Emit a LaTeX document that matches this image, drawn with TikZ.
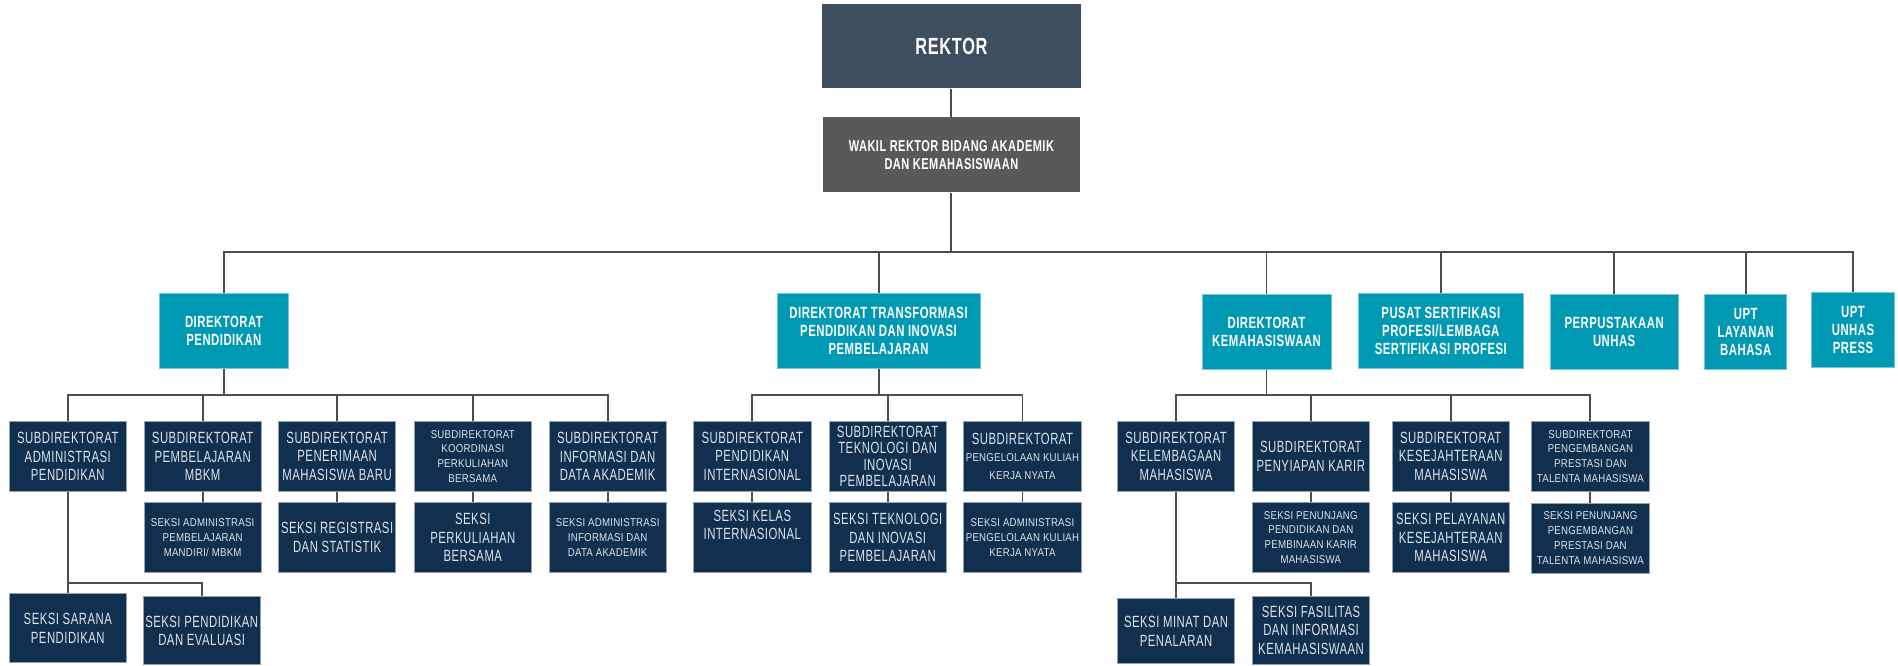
\documentclass[tikz,border=0pt]{standalone}
\usepackage{fontspec}
\setmainfont{Liberation Sans}[FakeStretch=0.70,LetterSpace=3.0]
\newfontfamily\smallfam{Liberation Sans}[FakeStretch=0.85,LetterSpace=2.0]
\usepackage{tikz}
\usetikzlibrary{positioning}
\usepackage{xcolor}
\definecolor{rektorcol}{HTML}{3F4E5F}
\definecolor{wakilcol}{HTML}{58595B}
\definecolor{tealcol}{HTML}{0099B4}
\definecolor{navycol}{HTML}{112F4F}
\definecolor{navytext}{HTML}{DDE3EA}
\definecolor{linecol}{HTML}{4D4D4D}
\newcommand\normtxt{\fontsize{13.4}{15.2}\selectfont}
\newcommand\smtxt{\smallfam\fontsize{9.4}{12.2}\selectfont}
\tikzset{%
	topbox/.style={
		rectangle,
		fill=rektorcol,
		text=white,
		font=\bfseries\fontsize{19.3}{22}\selectfont,
		minimum width=214pt,
		minimum height=70pt,
		inner sep=0pt,
		align=center
	},
	wakilbox/.style={
		topbox,
		fill=wakilcol,
		font=\bfseries\fontsize{13}{15}\selectfont,
		minimum width=212pt,
		minimum height=62pt
	},
	dirbox/.style={
		rectangle,
		fill=tealcol,
		draw=tealcol!55!white,
		line width=0.6pt,
		text=white,
		font=\bfseries\fontsize{13.4}{14.8}\selectfont,
		minimum height=62pt,
		inner sep=0pt,
		align=center
	},
	subbox/.style={
		rectangle,
		fill=navycol,
		draw=navycol!45!white,
		line width=0.6pt,
		text=navytext,
		font=\normtxt,
		minimum width=97pt,
		minimum height=57.5pt,
		inner sep=0pt,
		align=center
	},
	seksibox/.style={
		subbox,
		minimum height=58pt
	},
	smalltext/.style={font=\smtxt},
	conn/.style={draw=linecol, line width=1.6pt},
}
\begin{document}
\begin{tikzpicture}[x=1pt,y=-1pt]
			\useasboundingbox (0,0) rectangle (1568,549.4);
			
			% Draw the top of the chart
			\node[topbox] (rektor) at (786,38) {REKTOR};
			\node[wakilbox] (wakil) at (786,128) {WAKIL REKTOR BIDANG AKADEMIK\\DAN KEMAHASISWAAN};
			\coordinate (bus) at (786,208);
			
			% Draw the units under the wakil rektor
			\node[dirbox, minimum width=107pt] (dirpend) at (185,273.5) {DIREKTORAT\\PENDIDIKAN};
			\node[dirbox, minimum width=167.6pt] (dirtrans) at (725.8,273.5) {DIREKTORAT TRANSFORMASI\\PENDIDIKAN DAN INOVASI\\PEMBELAJARAN};
			\node[dirbox, minimum width=106.5pt] (dirmhs) at (1046.3,274) {DIREKTORAT\\KEMAHASISWAAN};
			\node[dirbox, minimum width=136.6pt] (pusat) at (1190.3,273.3) {PUSAT SERTIFIKASI\\PROFESI/LEMBAGA\\SERTIFIKASI PROFESI};
			\node[dirbox, minimum width=106.2pt] (perpus) at (1333.5,274.4) {PERPUSTAKAAN\\UNHAS};
			\node[dirbox, minimum width=67.8pt] (uptbhs) at (1442.2,274) {UPT\\LAYANAN\\BAHASA};
			\node[dirbox, minimum width=68.1pt] (uptpress) at (1530.8,272.5) {UPT\\UNHAS\\PRESS};
			
			% Draw the subdirektorat of direktorat pendidikan
			\node[subbox] (sa) at (56,377) {SUBDIREKTORAT\\ADMINISTRASI\\PENDIDIKAN};
			\node[subbox] (sb) at (167.4,377) {SUBDIREKTORAT\\PEMBELAJARAN\\MBKM};
			\node[subbox] (sc) at (278.5,377) {SUBDIREKTORAT\\PENERIMAAN\\MAHASISWA BARU};
			\node[subbox, smalltext] (sd) at (390.6,377) {SUBDIREKTORAT\\KOORDINASI\\PERKULIAHAN\\BERSAMA};
			\node[subbox] (se) at (502,377) {SUBDIREKTORAT\\INFORMASI DAN\\DATA AKADEMIK};
			\node[seksibox, smalltext] (sb1) at (167.4,444) {SEKSI ADMINISTRASI\\PEMBELAJARAN\\MANDIRI/ MBKM};
			\node[seksibox] (sc1) at (278.5,444) {SEKSI REGISTRASI\\DAN STATISTIK};
			\node[seksibox] (sd1) at (390.6,444) {SEKSI\\PERKULIAHAN\\BERSAMA};
			\node[seksibox, smalltext] (se1) at (502,444) {SEKSI ADMINISTRASI\\INFORMASI DAN\\DATA AKADEMIK};
			\node[seksibox, minimum height=57pt] (sa1) at (56,519) {SEKSI SARANA\\PENDIDIKAN};
			\node[seksibox, minimum height=56pt] (sa2) at (166.6,521) {SEKSI PENDIDIKAN\\DAN EVALUASI};
			
			% Draw the subdirektorat of direktorat transformasi
			\node[subbox] (ta) at (621.5,377) {SUBDIREKTORAT\\PENDIDIKAN\\INTERNASIONAL};
			\node[subbox, font=\fontsize{13.4}{13.6}\selectfont] (tb) at (733.3,377) {SUBDIREKTORAT\\TEKNOLOGI DAN\\INOVASI\\PEMBELAJARAN};
			\node[subbox] (tc) at (844.7,377) {SUBDIREKTORAT\\[-1pt]{\smtxt PENGELOLAAN KULIAH}\\{\smtxt KERJA NYATA}};
			\node[seksibox] (ta1) at (621.5,444) {SEKSI KELAS\\INTERNASIONAL\\[6pt]};
			\node[seksibox] (tb1) at (733.3,444) {SEKSI TEKNOLOGI\\DAN INOVASI\\PEMBELAJARAN};
			\node[seksibox, smalltext] (tc1) at (844.7,444) {SEKSI ADMINISTRASI\\PENGELOLAAN KULIAH\\KERJA NYATA};
			
			% Draw the subdirektorat of direktorat kemahasiswaan
			\node[subbox] (ka) at (971.6,377) {SUBDIREKTORAT\\KELEMBAGAAN\\MAHASISWA};
			\node[subbox] (kb) at (1082.9,377) {SUBDIREKTORAT\\PENYIAPAN KARIR};
			\node[subbox] (kc) at (1198.5,377) {SUBDIREKTORAT\\KESEJAHTERAAN\\MAHASISWA};
			\node[subbox, smalltext] (kd) at (1313.9,377) {SUBDIREKTORAT\\PENGEMBANGAN\\PRESTASI DAN\\TALENTA MAHASISWA};
			\node[seksibox, smalltext] (kb1) at (1082.9,444) {SEKSI PENUNJANG\\PENDIDIKAN DAN\\PEMBINAAN KARIR\\MAHASISWA};
			\node[seksibox] (kc1) at (1198.5,444) {SEKSI PELAYANAN\\KESEJAHTERAAN\\MAHASISWA};
			\node[seksibox, smalltext] (kd1) at (1313.9,444.5) {SEKSI PENUNJANG\\PENGEMBANGAN\\PRESTASI DAN\\TALENTA MAHASISWA};
			\node[seksibox, minimum height=54pt] (ka1) at (971.6,521.4) {SEKSI MINAT DAN\\PENALARAN};
			\node[seksibox, minimum height=56pt] (ka2) at (1083.1,520.7) {SEKSI FASILITAS\\DAN INFORMASI\\KEMAHASISWAAN};
			
			% Draw the connectors
			\draw[conn] (rektor) -- (wakil);
			\draw[conn] (wakil) -- (bus);
			\foreach \n in {dirpend,dirtrans,dirmhs,pusat,perpus,uptbhs,uptpress}
				\draw[conn] (bus) -| (\n);
			
			\coordinate (pbus) at (185,326.3);
			\draw[conn] (dirpend) -- (pbus);
			\foreach \n in {sa,sb,sc,sd,se}
				\draw[conn] (pbus) -| (\n);
			\foreach \n in {sb,sc,sd,se}
				\draw[conn] (\n) -- (\n1);
			\coordinate (abus) at (56,482);
			\draw[conn] (sa) -- (abus);
			\draw[conn] (abus) -| (sa1);
			\draw[conn] (abus) -| (sa2);
			
			\coordinate (tbus) at (725.8,326.3);
			\draw[conn] (dirtrans) -- (tbus);
			\foreach \n in {ta,tb,tc}
				\draw[conn] (tbus) -| (\n);
			\foreach \n in {ta,tb,tc}
				\draw[conn] (\n) -- (\n1);
			
			\coordinate (kbus) at (1046.3,326.3);
			\draw[conn] (dirmhs) -- (kbus);
			\foreach \n in {ka,kb,kc,kd}
				\draw[conn] (kbus) -| (\n);
			\foreach \n in {kb,kc,kd}
				\draw[conn] (\n) -- (\n1);
			\coordinate (kabus) at (971.6,482);
			\draw[conn] (ka) -- (kabus);
			\draw[conn] (kabus) -| (ka1);
			\draw[conn] (kabus) -| (ka2);
			
		\end{tikzpicture}
\end{document}
